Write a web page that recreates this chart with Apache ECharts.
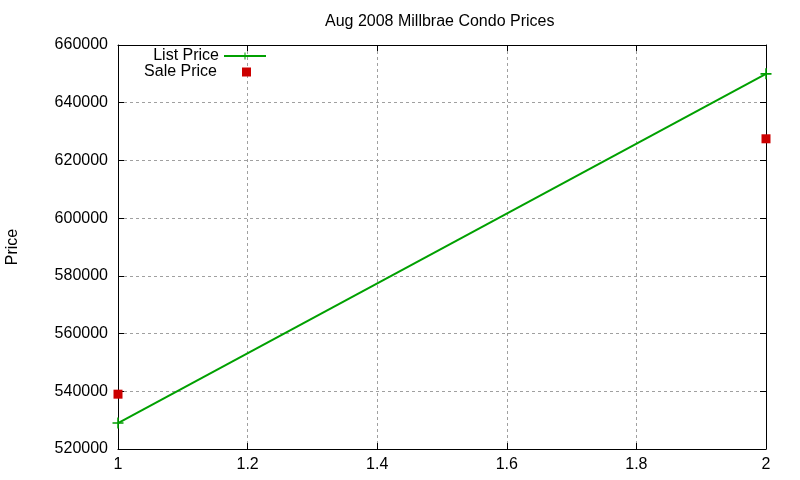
<!DOCTYPE html>
<html>
<head>
<meta charset="utf-8">
<script src="https://cdn.jsdelivr.net/npm/echarts@6/dist/echarts.min.js"></script>
<style>
  html, body { margin: 0; padding: 0; background: #fff; }
  #main { width: 800px; height: 480px; }
</style>
</head>
<body>
<div id="main"></div>
<script>
// data
var xValues = [1, 2];
var listPrice = [529000, 650000];
var salePrice = [539000, 627500];
var yTicks = { min: 520000, max: 660000, step: 20000 };
var xTicks = { min: 1, max: 2, step: 0.2 };

var font = "Liberation Sans, Arial, sans-serif";
var plus = 'path://M4.3,0 H5.7 V4.3 H10 V5.7 H5.7 V10 H4.3 V5.7 H0 V4.3 H4.3 Z';
var square = 'path://M0,0 H10 V10 H0 Z';

function pairs(xs, ys) {
	return xs.map(function (x, i) { return [x, ys[i]]; });
}

var chart = echarts.init(document.getElementById('main'));

var gridLine = { show: true, lineStyle: { color: '#a0a0a0', type: [3, 3], width: 1 } };
var axisLine = { show: true, onZero: false, lineStyle: { color: '#000', width: 1 } };
var tick = { show: true, inside: true, length: 6, lineStyle: { color: '#000' } };

//gnuplot keeps the key text right-aligned, so one legend per row, anchored on the right
function keyRow(name, top, right, width, padRight) {
	return {
		orient: 'vertical',
		right: right,
		top: top,
		padding: 0,
		align: 'right',
		itemWidth: width,
		itemHeight: 9,
		itemGap: 0,
		textStyle: { fontFamily: font, fontSize: 16, color: '#000', lineHeight: 15, padding: [0, padRight, 0, 0] },
		data: [name]
	};
}

chart.setOption({
	animation: false,
	backgroundColor: '#fff',
	textStyle: { fontFamily: font },
	title: {
		text: 'Aug 2008 Millbrae Condo Prices',
		left: 320,
		top: 9,
		textStyle: { fontFamily: font, fontSize: 16, fontWeight: 'normal', color: '#000' }
	},
	legend: [keyRow('List Price', 48, 533, 42, 0), keyRow('Sale Price', 64, 549, 9, 20)],
	grid: { left: 118, right: 34, top: 45, bottom: 31, outerBoundsMode: 'none' },
	xAxis: [{
		type: 'value',
		min: xTicks.min, max: xTicks.max, interval: xTicks.step,
		axisLine: axisLine, axisTick: tick, splitLine: gridLine,
		axisLabel: {
			color: '#000', fontSize: 16, fontFamily: font, margin: 8,
			formatter: function (v) { return String(Math.round(v * 10) / 10); }
		}
	}, {
		type: 'value', position: 'top',
		min: xTicks.min, max: xTicks.max, interval: xTicks.step,
		axisLine: axisLine, axisTick: tick, splitLine: { show: false }, axisLabel: { show: false }
	}],
	yAxis: [{
		type: 'value',
		name: 'Price',
		nameLocation: 'middle',
		nameGap: 97,
		nameRotate: 90,
		nameTextStyle: { fontFamily: font, fontSize: 16, color: '#000' },
		min: yTicks.min, max: yTicks.max, interval: yTicks.step,
		axisLine: axisLine, axisTick: tick, splitLine: gridLine,
		axisLabel: {
			color: '#000', fontSize: 16, fontFamily: font, margin: 10,
			formatter: function (v) { return String(v); }
		}
	}, {
		type: 'value', position: 'right',
		min: yTicks.min, max: yTicks.max, interval: yTicks.step,
		axisLine: axisLine, axisTick: tick, splitLine: { show: false }, axisLabel: { show: false }
	}],
	series: [{
		name: 'List Price',
		type: 'line',
		data: pairs(xValues, listPrice),
		symbol: plus,
		symbolSize: 11,
		symbolKeepAspect: true,
		showAllSymbol: true,
		color: '#00a000',
		lineStyle: { color: '#00a000', width: 2 },
		itemStyle: { color: '#00a000' },
		clip: false
	}, {
		name: 'Sale Price',
		type: 'scatter',
		data: pairs(xValues, salePrice),
		symbol: square,
		symbolSize: 9,
		symbolKeepAspect: true,
		itemStyle: { color: '#cc0000', opacity: 1 },
		clip: false
	}]
});
</script>
</body>
</html>
